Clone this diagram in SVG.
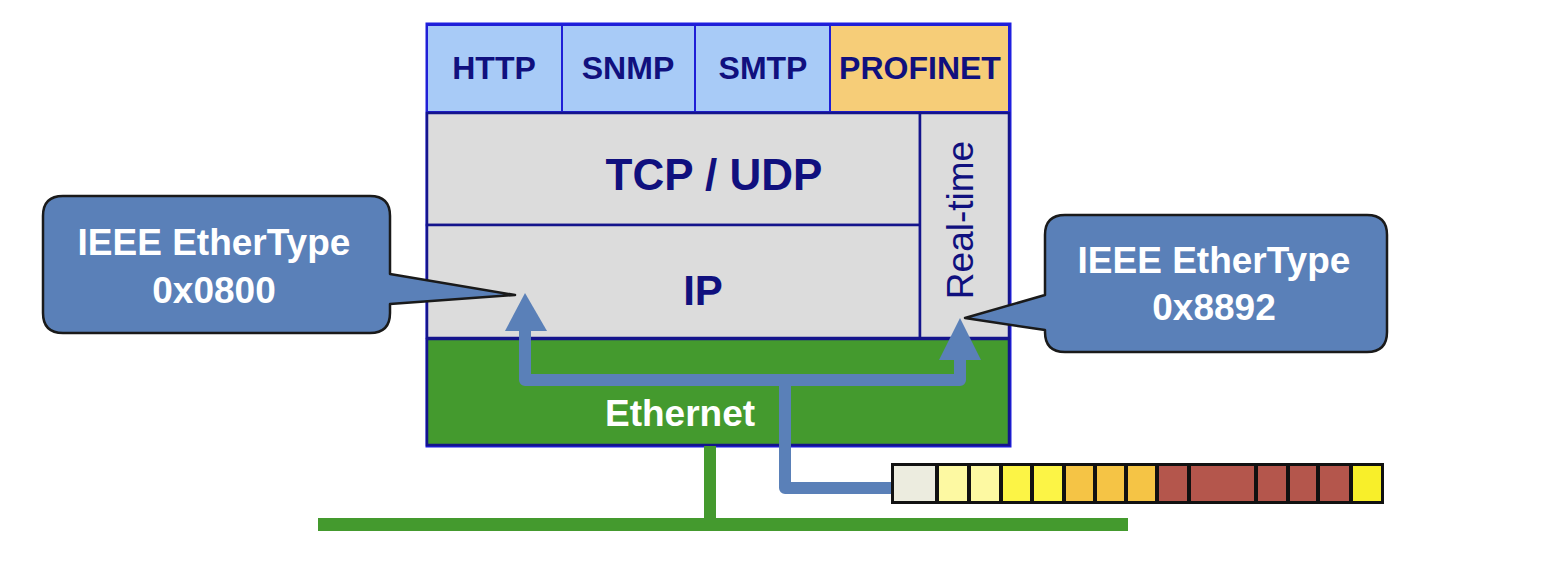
<svg xmlns="http://www.w3.org/2000/svg" width="1544" height="566" viewBox="0 0 1544 566">
<style>
.cell{stroke:#1f1fd6;stroke-width:2}
.inner{stroke:#14148c;stroke-width:2.5}
.lbl{font-family:"Liberation Sans",Arial,sans-serif;font-weight:bold;fill:#10107e;text-anchor:middle}
.wt{font-family:"Liberation Sans",Arial,sans-serif;font-weight:bold;fill:#ffffff;text-anchor:middle}
.callout{fill:#5a80b8;stroke:#1a1a1a;stroke-width:2.5;stroke-linejoin:round}
.pk{stroke:#111;stroke-width:2}
</style>
<rect width="1544" height="566" fill="#ffffff"/>
<g id="stack">
<rect x="427" y="24" width="583" height="422" fill="none" stroke="#1f1fe0" stroke-width="3"/>
</g>
<g id="http"><rect class="cell" x="427" y="25" width="135" height="87" fill="#a8cbf7"/><text class="lbl" x="494" y="79" font-size="32">HTTP</text></g>
<g id="snmp"><rect class="cell" x="562" y="25" width="133" height="87" fill="#a8cbf7"/><text class="lbl" x="628" y="79" font-size="32">SNMP</text></g>
<g id="smtp"><rect class="cell" x="695" y="25" width="135" height="87" fill="#a8cbf7"/><text class="lbl" x="763" y="79" font-size="32">SMTP</text></g>
<g id="profinet"><rect class="cell" x="830" y="25" width="179" height="87" fill="#f6cd78"/><text class="lbl" x="920" y="79" font-size="32">PROFINET</text></g>
<g id="tcpudp"><rect class="inner" x="427" y="113" width="493" height="112" fill="#dcdcdc"/><text class="lbl" x="714" y="190" font-size="44">TCP / UDP</text></g>
<g id="ip"><rect class="inner" x="427" y="225" width="493" height="113" fill="#dcdcdc"/><text class="lbl" x="703" y="305" font-size="42">IP</text></g>
<g id="realtime"><rect class="inner" x="920" y="113" width="89" height="225" fill="#dcdcdc"/><text x="973" y="220" transform="rotate(-90 973 220)" font-family="Liberation Sans,Arial,sans-serif" font-size="37" fill="#10107e" text-anchor="middle">Real-time</text></g>
<g id="ethernet"><rect x="427" y="339" width="582" height="106" fill="#449a2e" stroke="#14148c" stroke-width="2.5"/><text class="wt" x="680" y="426" font-size="37">Ethernet</text></g>
<g id="bus">
<rect x="704" y="446" width="12" height="76" fill="#449a2e"/>
<rect x="318" y="518" width="810" height="13" fill="#449a2e"/>
</g>
<g id="connectors">
<path d="M891 488 H785 V380 H525 V325 M785 380 H960 V352" fill="none" stroke="#5a80b8" stroke-width="12" stroke-linejoin="round"/>
<polygon points="525,293 505,331 547,331" fill="#5a80b8"/>
<polygon points="960,318 939,360 981,360" fill="#5a80b8"/>
</g>
<g id="callout-left">
<path class="callout" d="M63 196 H370 Q390 196 390 216 V274 L515 295 L390 304 V313 Q390 333 370 333 H63 Q43 333 43 313 V216 Q43 196 63 196 Z"/>
<text class="wt" x="214" y="255" font-size="37">IEEE EtherType</text>
<text class="wt" x="214" y="303" font-size="37">0x0800</text>
</g>
<g id="callout-right">
<path class="callout" d="M1065 215 H1367 Q1387 215 1387 235 V332 Q1387 352 1367 352 H1065 Q1045 352 1045 332 V330 L965 318 L1045 295 V235 Q1045 215 1065 215 Z"/>
<text class="wt" x="1214" y="273" font-size="37">IEEE EtherType</text>
<text class="wt" x="1214" y="320" font-size="37">0x8892</text>
</g>
<g id="packet">
<rect x="891" y="463" width="493" height="41" fill="#111"/>
<rect class="pk" x="893" y="465" width="43" height="37" fill="#ececdf"/>
<rect class="pk" x="938" y="465" width="30" height="37" fill="#fdf9a2"/>
<rect class="pk" x="970" y="465" width="30" height="37" fill="#fdf9a2"/>
<rect class="pk" x="1002" y="465" width="29" height="37" fill="#fcf446"/>
<rect class="pk" x="1033" y="465" width="30" height="37" fill="#fcf446"/>
<rect class="pk" x="1065" y="465" width="29" height="37" fill="#f5c445"/>
<rect class="pk" x="1096" y="465" width="29" height="37" fill="#f5c445"/>
<rect class="pk" x="1127" y="465" width="29" height="37" fill="#f5c445"/>
<rect class="pk" x="1158" y="465" width="30" height="37" fill="#b4564c"/>
<rect class="pk" x="1190" y="465" width="65" height="37" fill="#b4564c"/>
<rect class="pk" x="1257" y="465" width="30" height="37" fill="#b4564c"/>
<rect class="pk" x="1289" y="465" width="28" height="37" fill="#b4564c"/>
<rect class="pk" x="1319" y="465" width="31" height="37" fill="#b4564c"/>
<rect class="pk" x="1352" y="465" width="30" height="37" fill="#f8ef2a"/>
</g>
</svg>
